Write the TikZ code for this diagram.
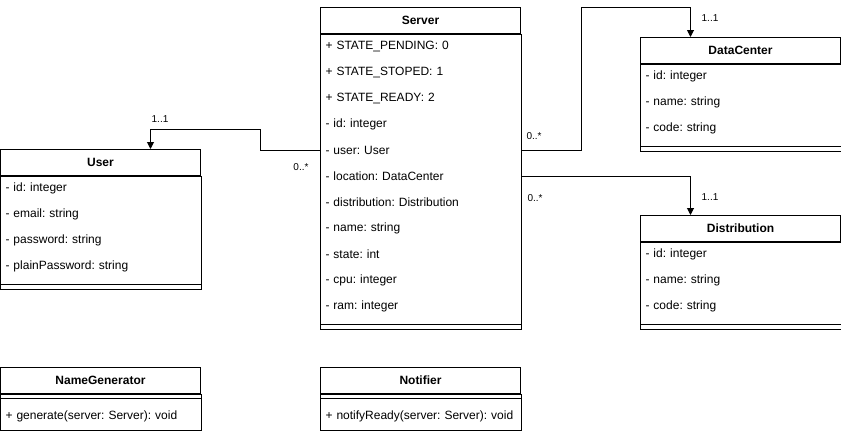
\documentclass[tikz,border=0pt]{standalone}
\usepackage{fontspec}
\setmainfont{Liberation Sans}
\frenchspacing
\usetikzlibrary{arrows.meta,positioning}

\tikzset{
    classhead/.style={draw, rectangle, anchor=north west, minimum width=200pt, minimum height=26pt, inner sep=0pt, font=\fontsize{12pt}{14pt}\selectfont\bfseries},
    attr/.style={rectangle, anchor=north west, text width=190pt, align=left, inner xsep=5pt, inner ysep=0pt, minimum height=26pt},
    sepbox/.style={rectangle, anchor=north west, minimum width=200pt, minimum height=8pt, inner sep=0pt},
    mult/.style={font=\fontsize{10pt}{12pt}\selectfont, inner sep=1pt},
    assoc/.style={-{Triangle[width=7pt,length=7pt]}, line width=1pt}
}

\begin{document}
\begin{tikzpicture}[x=1pt, y=-1pt, line width=1pt, font=\fontsize{12pt}{14pt}\selectfont]
    \useasboundingbox (0,0) rectangle (841,431);

    % Server
    \node[classhead] (srv) at (320,7) {Server};
    \foreach \txt [count=\i] in {+ STATE\_PENDING: 0, + STATE\_STOPED: 1, + STATE\_READY: 2, - id: integer, - user: User, - location: DataCenter, - distribution: Distribution, - name: string, - state: int, - cpu: integer, - ram: integer}
        \node[attr] (srv-\i) at (320,{7+26*\i}) {\txt};
    \node[sepbox, below=0pt of srv-11.south west, anchor=north west] (srv-sep) {};
    \draw (srv.south west) rectangle (srv-sep.south east);
    \draw (srv-sep.west) -- (srv-sep.east);

    % User
    \node[classhead] (usr) at (0,149) {User};
    \foreach \txt [count=\i] in {- id: integer, - email: string, - password: string, - plainPassword: string}
        \node[attr] (usr-\i) at (0,{149+26*\i}) {\txt};
    \node[sepbox, below=0pt of usr-4.south west, anchor=north west] (usr-sep) {};
    \draw (usr.south west) rectangle (usr-sep.south east);
    \draw (usr-sep.west) -- (usr-sep.east);

    % DataCenter
    \node[classhead] (dc) at (640,37) {DataCenter};
    \foreach \txt [count=\i] in {- id: integer, - name: string, - code: string}
        \node[attr] (dc-\i) at (640,{37+26*\i}) {\txt};
    \node[sepbox, below=0pt of dc-3.south west, anchor=north west] (dc-sep) {};
    \draw (dc.south west) rectangle (dc-sep.south east);
    \draw (dc-sep.west) -- (dc-sep.east);

    % Distribution
    \node[classhead] (dist) at (640,215) {Distribution};
    \foreach \txt [count=\i] in {- id: integer, - name: string, - code: string}
        \node[attr] (dist-\i) at (640,{215+26*\i}) {\txt};
    \node[sepbox, below=0pt of dist-3.south west, anchor=north west] (dist-sep) {};
    \draw (dist.south west) rectangle (dist-sep.south east);
    \draw (dist-sep.west) -- (dist-sep.east);

    % NameGenerator and Notifier
    \node[classhead] (ng) at (0,367) {NameGenerator};
    \node[sepbox, below=0pt of ng.south west, anchor=north west] (ng-sep) {};
    \node[attr, below=0pt of ng-sep.south west, anchor=north west] (ng-1) {+ generate(server: Server): void};
    \draw (ng.south west) rectangle (ng-1.south east);
    \draw (ng-sep.west) -- (ng-sep.east);

    \node[classhead] (nt) at (320,367) {Notifier};
    \node[sepbox, below=0pt of nt.south west, anchor=north west] (nt-sep) {};
    \node[attr, below=0pt of nt-sep.south west, anchor=north west] (nt-1) {+ notifyReady(server: Server): void};
    \draw (nt.south west) rectangle (nt-1.south east);
    \draw (nt-sep.west) -- (nt-sep.east);

    % Associations
    \draw[assoc] (srv-5.west) -- ++(-60,0) -- ++(0,-21) -| ([xshift=50pt]usr.north);
    \draw[assoc] (srv-5.east) -- ++(60,0) -- ++(0,-143) -| ([xshift=-50pt]dc.north);
    \draw[assoc] (srv-6.east) -| ([xshift=-50pt]dist.north);

    \node[mult] (m-usr) at (160,119) {1..1};
    \node[mult] (m-srv-usr) at (301,167) {0..*};
    \node[mult] (m-dc) at (710,18) {1..1};
    \node[mult] (m-srv-dc) at (534,136) {0..*};
    \node[mult] (m-dist) at (710,197) {1..1};
    \node[mult] (m-srv-dist) at (535,198) {0..*};
\end{tikzpicture}
\end{document}
